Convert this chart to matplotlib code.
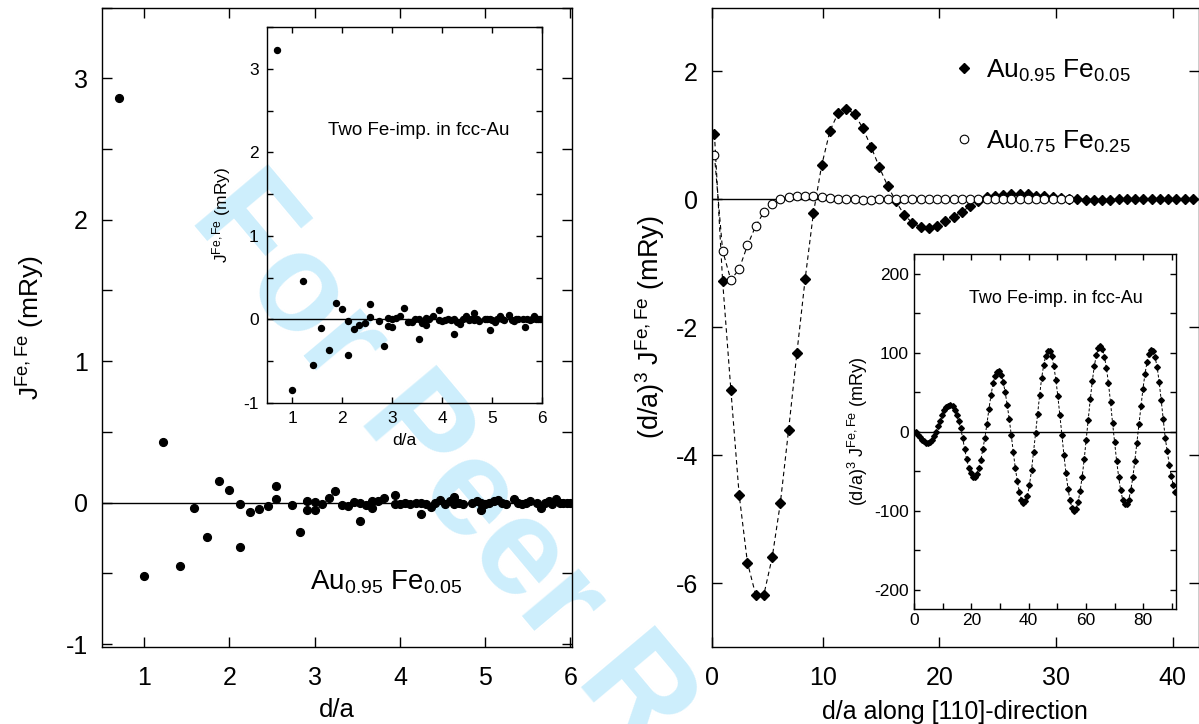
import matplotlib
matplotlib.use('Agg')
import matplotlib.pyplot as plt
from matplotlib.lines import Line2D
from matplotlib.ticker import MultipleLocator, FixedLocator, FixedFormatter

plt.rcParams['font.family'] = ['Liberation Sans', 'DejaVu Sans']
plt.rcParams['mathtext.fontset'] = 'custom'
plt.rcParams['mathtext.rm'] = 'Liberation Sans'
plt.rcParams['mathtext.it'] = 'Liberation Sans:italic'
plt.rcParams['mathtext.bf'] = 'Liberation Sans:bold'
plt.rcParams['axes.unicode_minus'] = False

# ---------------- data ----------------
# fcc shell distances d/a (left panel and its inset)
shell_d = [0.707, 1.000, 1.225, 1.414, 1.581, 1.732, 1.871, 2.000, 2.121, 2.121,
           2.236, 2.345, 2.449, 2.550, 2.550, 2.739, 2.828, 2.915, 2.915, 3.000,
           3.000, 3.082, 3.162, 3.240, 3.317, 3.391, 3.464, 3.536, 3.536, 3.606,
           3.674, 3.674, 3.742, 3.808, 3.937, 3.937, 4.000, 4.062, 4.123, 4.183,
           4.243, 4.243, 4.301, 4.359, 4.416, 4.472, 4.528, 4.583, 4.637, 4.637,
           4.690, 4.743, 4.848, 4.899, 4.950, 4.950, 5.000, 5.050, 5.099, 5.148,
           5.196, 5.244, 5.339, 5.385, 5.431, 5.477, 5.523, 5.612, 5.657, 5.701,
           5.745, 5.788, 5.831, 5.874, 5.916, 5.958, 6.000]
# J^{Fe,Fe} in Au0.95Fe0.05 (mRy)
J_alloy = [2.86, -0.52, 0.43, -0.45, -0.04, -0.24, 0.15, 0.09, -0.01, -0.31,
           -0.065, -0.045, -0.025, 0.115, 0.025, -0.015, -0.21, 0.01, -0.05, 0.005,
           -0.055, -0.01, 0.03, 0.08, -0.02, -0.025, 0.005, -0.13, 0.0, -0.02,
           -0.04, 0.01, 0.01, 0.03, 0.055, -0.01, -0.01, 0.0, -0.01, 0.0,
           -0.08, 0.0, -0.01, -0.03, 0.0, 0.02, -0.01, 0.01, 0.04, -0.01,
           0.0, -0.01, 0.0, 0.01, -0.05, 0.0, -0.01, 0.0, 0.01, 0.02,
           0.0, -0.01, 0.025, 0.0, -0.01, 0.0, 0.01, 0.0, -0.04, 0.0,
           0.01, -0.01, 0.025, 0.0, 0.0, 0.0, 0.0]
# J^{Fe,Fe} for two Fe impurities in fcc Au (mRy), inset
J_pure = [3.23, -0.85, 0.46, -0.54, -0.10, -0.36, 0.20, 0.13, -0.02, -0.42,
          -0.11, -0.07, -0.04, 0.18, 0.03, -0.02, -0.32, 0.02, -0.08, 0.01,
          -0.09, 0.02, 0.04, 0.14, -0.03, -0.03, 0.0, -0.24, 0.0, -0.04,
          -0.07, 0.02, 0.01, 0.04, 0.11, -0.01, -0.02, -0.01, 0.0, -0.01,
          -0.18, 0.0, -0.03, -0.05, 0.0, 0.04, -0.01, 0.0, 0.08, -0.01,
          0.0, -0.02, 0.0, 0.01, -0.13, 0.0, -0.01, -0.03, 0.0, 0.04,
          0.0, -0.01, 0.05, -0.01, -0.02, 0.0, 0.01, 0.0, -0.09, 0.0,
          -0.01, 0.0, 0.04, 0.01, 0.0, 0.0, 0.0]

# distances along [110] (d/a)
d110 = [0.71, 1.41, 2.12, 2.83, 3.54, 4.24, 4.95, 5.66, 6.36, 7.07,
        7.78, 8.49, 9.19, 9.90, 10.61, 11.31, 12.02, 12.73, 13.44, 14.14,
        14.85, 15.56, 16.26, 16.97, 17.68, 18.38, 19.09, 19.80, 20.51, 21.21,
        21.92, 22.63, 23.33, 24.04, 24.75, 25.46, 26.16, 26.87, 27.58, 28.28,
        28.99, 29.70, 30.41, 31.11, 31.82, 32.53, 33.23, 33.94, 34.65, 35.36,
        36.06, 36.77, 37.48, 38.18, 38.89, 39.60, 40.31, 41.01, 41.72, 42.43,
        43.13, 43.84, 44.55, 45.25, 45.96, 46.67, 47.38, 48.08, 48.79, 49.50,
        50.20, 50.91, 51.62, 52.33, 53.03, 53.74, 54.45, 55.15, 55.86, 56.57,
        57.28, 57.98, 58.69, 59.40, 60.10, 60.81, 61.52, 62.23, 62.93, 63.64,
        64.35, 65.05, 65.76, 66.47, 67.18, 67.88, 68.59, 69.30, 70.00, 70.71,
        71.42, 72.12, 72.83, 73.54, 74.25, 74.95, 75.66, 76.37, 77.07, 77.78,
        78.49, 79.20, 79.90, 80.61, 81.32, 82.02, 82.73, 83.44, 84.15, 84.85,
        85.56, 86.27, 86.97, 87.68, 88.39, 89.10, 89.80, 90.51, 91.22]
# (d/a)^3 J^{Fe,Fe} (mRy), Au0.95Fe0.05
JJ_095 = [1.02, -1.27, -2.98, -4.62, -5.68, -6.18, -6.18, -5.60, -4.75, -3.60,
          -2.40, -1.24, -0.22, 0.53, 1.07, 1.35, 1.42, 1.33, 1.11, 0.82,
          0.50, 0.21, -0.03, -0.24, -0.37, -0.43, -0.45, -0.41, -0.34, -0.27,
          -0.19, -0.11, -0.03, 0.04, 0.05, 0.07, 0.09, 0.09, 0.08, 0.06,
          0.05, 0.03, 0.02, 0.01, 0.0, -0.01, -0.01, -0.01, -0.01, 0.0,
          0.0, 0.0, 0.01, 0.01, 0.0, 0.0, 0.0, 0.0, 0.0]
# (d/a)^3 J^{Fe,Fe} (mRy), Au0.75Fe0.25
JJ_075 = [0.69, -0.80, -1.26, -1.09, -0.72, -0.42, -0.20, -0.07, 0.01, 0.04,
          0.06, 0.06, 0.05, 0.03, 0.02, 0.01, 0.0, 0.0, -0.01, -0.01,
          0.0, 0.0, 0.0, 0.0, 0.0, 0.0, 0.0, 0.0, 0.0, 0.0,
          0.0, 0.0, 0.0, 0.0, 0.0, 0.0, 0.0, 0.0, 0.0, 0.0,
          0.0, 0.0, 0.0, 0.0]
# (d/a)^3 J^{Fe,Fe} (mRy), two Fe impurities in fcc Au (inset)
JJ_pure = [-1, -4, -7, -10, -12, -14, -14.5, -13, -10, -5.5,
           -1, 6.7, 14, 21, 27, 31, 33, 34, 32, 28,
           21.6, 13.5, 4.6, -7.8, -22, -35, -46, -53, -57.5, -57.6,
           -54, -46, -36, -22, -7.6, 10, 29, 46, 61, 70.5,
           76, 76.6, 72, 63, 50, 34, 16, -4, -26, -46,
           -63, -76, -86, -90, -88, -81, -67, -49, -26, -2,
           22, 46, 68, 84, 96, 102, 102, 96, 83, 66,
           45, 21, -4, -30, -52, -72, -87, -97, -101, -98,
           -89, -75, -57, -35, -10, 15, 41, 64, 83, 97,
           106, 109, 105, 95, 80, 61, 37, 11, -13, -37,
           -57, -74, -86, -92, -92, -86, -74, -58, -37, -14,
           10, 33, 54, 73, 88, 98, 103, 102, 94, 82,
           63, 40, 16, -8, -25, -42, -56, -68, -76]

label_095 = r'Au$_{\mathrm{0.95}}$ Fe$_{\mathrm{0.05}}$'
label_075 = r'Au$_{\mathrm{0.75}}$ Fe$_{\mathrm{0.25}}$'
inset_title = 'Two Fe-imp. in fcc-Au'

# ---------------- figure ----------------
fig = plt.figure(figsize=(11.99, 7.24), dpi=100)

fig.text(0.157, 0.699, 'For Peer Review', fontsize=100, fontweight='bold',
         color='#cdeefc', rotation=-50, rotation_mode='anchor',
         ha='left', va='baseline', zorder=-5)

def style(ax, fs, length, pad_x, pad_y):
    ax.set_facecolor('none')
    ax.tick_params(which='both', direction='in', top=True, right=True,
                   length=length, width=1, labelsize=fs)
    ax.tick_params(axis='x', which='both', pad=pad_x)
    ax.tick_params(axis='y', which='both', pad=pad_y)
    for s in ax.spines.values():
        s.set_linewidth(1)

# left main
ax1 = fig.add_axes([0.0848, 0.1064, 0.3923, 0.8832])
style(ax1, 18, 7, 14, 10)
ax1.axhline(0, color='k', lw=1)
ax1.plot(shell_d, J_alloy, 'o', color='k', ms=5.6, ls='none')
ax1.set_xlim(0.5, 6.02)
ax1.set_ylim(-1.02, 3.5)
ax1.xaxis.set_major_locator(MultipleLocator(1))
ax1.yaxis.set_major_locator(MultipleLocator(1))
ax1.yaxis.set_minor_locator(MultipleLocator(0.5))
ax1.set_xlabel('d/a', fontsize=18.5)
ax1.set_ylabel(r'J$^{\mathrm{Fe,Fe}}$ (mRy)', fontsize=19)
ax1.xaxis.set_label_coords(0.5, -0.08)
ax1.yaxis.set_label_coords(-0.116, 0.5)
ax1.text(2.94, -0.615, label_095, fontsize=20, ha='left', va='baseline')

# left inset
ax2 = fig.add_axes([0.2227, 0.4434, 0.2296, 0.5193])
style(ax2, 12.5, 4, 6, 6)
ax2.axhline(0, color='k', lw=1)
ax2.plot(shell_d, J_pure, 'o', color='k', ms=4.3, ls='none')
ax2.set_xlim(0.5, 6.0)
ax2.set_ylim(-1.0, 3.5)
ax2.xaxis.set_major_locator(MultipleLocator(1))
ax2.yaxis.set_major_locator(MultipleLocator(1))
ax2.yaxis.set_minor_locator(MultipleLocator(0.5))
ax2.set_xlabel('d/a', fontsize=12.5)
ax2.set_ylabel(r'J$^{\mathrm{Fe,Fe}}$ (mRy)', fontsize=12.5)
ax2.xaxis.set_label_coords(0.5, -0.081)
ax2.yaxis.set_label_coords(-0.1235, 0.5)
ax2.text(3.53, 2.26, inset_title, fontsize=13.5, ha='center', va='center')

# right main
ax3 = fig.add_axes([0.5938, 0.1064, 0.4058, 0.8832])
style(ax3, 18, 7, 14, 10)
ax3.axhline(0, color='k', lw=1)
ax3.plot(d110[:len(JJ_095)], JJ_095, color='k', lw=0.8, ls=(0, (4, 3)),
         marker='D', ms=5.2, mfc='k', mec='k')
ax3.plot(d110[:len(JJ_075)], JJ_075, color='k', lw=0.8, ls=(0, (4, 3)),
         marker='o', ms=6.2, mfc='white', mec='k', mew=0.8)
ax3.set_xlim(0.5, 42.2)
ax3.set_ylim(-7, 3)
ax3.xaxis.set_major_locator(FixedLocator([0.5, 10, 20, 30, 40]))
ax3.xaxis.set_major_formatter(FixedFormatter(['0', '10', '20', '30', '40']))
ax3.yaxis.set_major_locator(MultipleLocator(2))
ax3.set_xlabel('d/a along [110]-direction', fontsize=18)
ax3.set_ylabel(r'(d/a)$^{3}$ J$^{\mathrm{Fe,Fe}}$ (mRy)', fontsize=19.5)
ax3.xaxis.set_label_coords(0.5, -0.083)
ax3.yaxis.set_label_coords(-0.0925, 0.5)
handles = [Line2D([], [], ls='none', marker='D', ms=5.2, mfc='k', mec='k'),
           Line2D([], [], ls='none', marker='o', ms=6.2, mfc='white', mec='k', mew=0.8)]
ax3.legend(handles, [label_095, label_075], loc='upper left',
           bbox_to_anchor=(0.4954, 0.922), frameon=False, fontsize=19,
           handlelength=0.8, handletextpad=0.45, labelspacing=1.7,
           borderpad=0, borderaxespad=0)

# right inset
ax4 = fig.add_axes([0.7623, 0.1584, 0.2189, 0.4908])
style(ax4, 12.5, 4, 3, 3.6)
ax4.axhline(0, color='k', lw=1)
ax4.plot(d110, JJ_pure, color='k', lw=0.7, ls=(0, (3, 2)),
         marker='D', ms=2.9, mfc='k', mec='k')
ax4.set_xlim(0, 91.6)
ax4.set_ylim(-225, 225)
ax4.xaxis.set_major_locator(MultipleLocator(20))
ax4.xaxis.set_minor_locator(MultipleLocator(10))
ax4.yaxis.set_major_locator(MultipleLocator(100))
ax4.yaxis.set_minor_locator(MultipleLocator(50))
ax4.set_ylabel(r'(d/a)$^{3}$ J$^{\mathrm{Fe,Fe}}$ (mRy)', fontsize=13)
ax4.yaxis.set_label_coords(-0.168, 0.5)
ax4.text(49.5, 169, inset_title, fontsize=13, ha='center', va='center')

fig.savefig('out.png', dpi=100)
